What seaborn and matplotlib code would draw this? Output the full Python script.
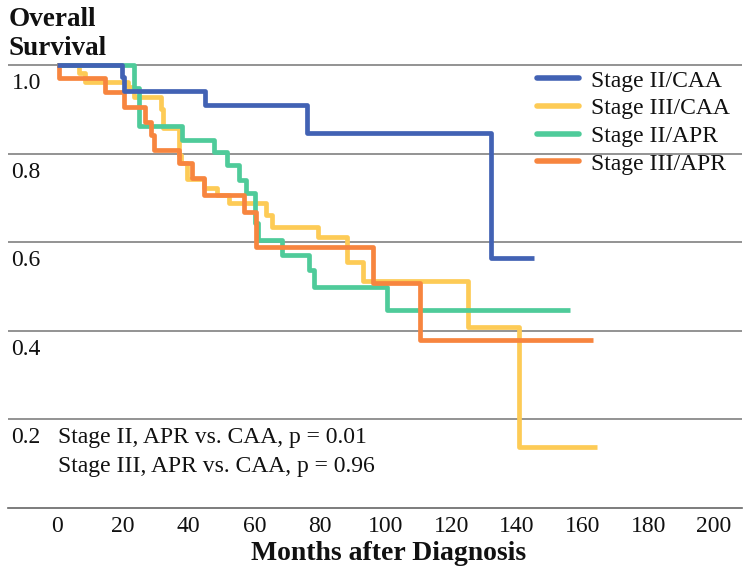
import numpy as np
import pandas as pd
import matplotlib
matplotlib.use("Agg")
import matplotlib.pyplot as plt
from matplotlib.transforms import offset_copy
import seaborn as sns

# ---- data ----
groups = ["Stage II/CAA", "Stage III/CAA", "Stage II/APR", "Stage III/APR"]
colors = ["#4262B4", "#FDCB56", "#4FCB9A", "#F7853F"]

t_ii_caa = [0, 19.6, 20.3, 45.1, 76.0, 132.0, 145.0]
s_ii_caa = [1.0, 0.974, 0.942, 0.91, 0.846, 0.565, 0.565]

t_iii_caa = [0, 6.5, 8.3, 21.5, 23.4, 31.5, 32.3, 37.0, 37.6, 39.5, 44.6, 48.6,
             52.2, 63.5, 65.3, 79.5, 88.1, 93.0, 125.0, 140.7, 164.3]
s_iii_caa = [1.0, 0.981, 0.962, 0.95, 0.928, 0.90, 0.857, 0.797, 0.778, 0.742,
             0.722, 0.707, 0.688, 0.661, 0.635, 0.612, 0.555, 0.513, 0.409, 0.137, 0.137]

t_ii_apr = [0, 23.4, 24.9, 38.0, 47.6, 51.6, 55.2, 57.3, 60.3, 61.2, 68.4, 76.5,
            78.0, 100.3, 156.0]
s_ii_apr = [1.0, 0.948, 0.862, 0.83, 0.804, 0.774, 0.74, 0.71, 0.643, 0.605,
            0.571, 0.537, 0.50, 0.448, 0.448]

t_iii_apr = [0, 0.4, 14.5, 20.3, 26.6, 28.4, 29.4, 37.0, 41.0, 44.6, 56.8, 60.5,
             96.2, 110.4, 163.0]
s_iii_apr = [1.0, 0.97, 0.938, 0.906, 0.872, 0.842, 0.808, 0.779, 0.744, 0.706,
             0.669, 0.59, 0.507, 0.379, 0.379]

yticks = [0.2, 0.4, 0.6, 0.8, 1.0]
ytick_labels = ["0.2", "0.4", "0.6", "0.8", "1.0"]
xticks = [0, 20, 40, 60, 80, 100, 120, 140, 160, 180, 200]
annot_lines = ["Stage II, APR vs. CAA, p = 0.01", "Stage III, APR vs. CAA, p = 0.96"]

series = {
    groups[0]: (t_ii_caa, s_ii_caa),
    groups[1]: (t_iii_caa, s_iii_caa),
    groups[2]: (t_ii_apr, s_ii_apr),
    groups[3]: (t_iii_apr, s_iii_apr),
}
rows = []
for g, (tt, ss) in series.items():
    for a, b in zip(tt, ss):
        rows.append({"months": a, "survival": b, "group": g})
df = pd.DataFrame(rows)

# ---- style ----
sns.set_style("white")
plt.rcParams["font.family"] = ["Liberation Serif", "DejaVu Serif"]

fig = plt.figure(figsize=(7.51, 5.79), dpi=100)
ax = fig.add_axes([8 / 751, 71 / 579, 734 / 751, (508 - 60.6) / 579])

sns.lineplot(data=df, x="months", y="survival", hue="group", hue_order=groups,
             palette=colors, drawstyle="steps-post", estimator=None, sort=True,
             linewidth=3.4, ax=ax, legend=True)
for ln in ax.lines:
    ln.set_solid_capstyle("butt")
ax.lines[0].set_zorder(5)

ax.set_xlim(-15.05, 208.5)
ax.set_ylim(0, 1.01)

# gridlines
ax.set_yticks(yticks)
ax.set_yticklabels([])
ax.yaxis.grid(True, color="#808080", linewidth=1.2)
ax.xaxis.grid(False)
ax.tick_params(axis="y", length=0)

# y labels below gridlines
ytrans = offset_copy(ax.get_yaxis_transform(), fig=fig, x=2.5, y=-5.8, units="points")
for v, lab in zip(yticks, ytick_labels):
    ax.text(0, v, lab, transform=ytrans, ha="left", va="top", fontsize=17, color="#111111")

# x axis
ax.set_xticks(xticks)
ax.set_xticklabels([str(x) for x in xticks])
ax.tick_params(axis="x", direction="in", length=10.8, width=0.8, color="#555555",
               pad=6, labelsize=17, labelcolor="#111111")
for s in ["top", "right", "left"]:
    ax.spines[s].set_visible(False)
ax.spines["bottom"].set_color("#666666")
ax.spines["bottom"].set_linewidth(1.2)

ax.set_xlabel("Months after Diagnosis", fontsize=20, fontweight="bold", color="#111111")
ax.xaxis.set_label_coords(0.518, -0.073)
ax.xaxis.label.set_va("top")
ax.set_ylabel("")

# annotation text
atrans1 = offset_copy(ax.transData, fig=fig, x=0, y=-5.8, units="points")
atrans2 = offset_copy(ax.transData, fig=fig, x=0, y=-5.8 - 20.3, units="points")
ax.text(0.3, yticks[0], annot_lines[0], transform=atrans1, ha="left", va="top",
        fontsize=17, color="#111111")
ax.text(0.3, yticks[0], annot_lines[1], transform=atrans2, ha="left", va="top",
        fontsize=17, color="#111111")

# title
fig.text(9 / 751, 1 - 7 / 579, "Overall\nSurvival", ha="left", va="top",
         fontsize=19.5, fontweight="bold", linespacing=1.2, color="#111111")

# legend
sns.move_legend(ax, "upper left", bbox_to_anchor=(0.7207, 0.979), title=None,
                frameon=False, fontsize=17, handlelength=1.78, handletextpad=0.5,
                labelspacing=0.26, borderpad=0, borderaxespad=0)
leg = ax.get_legend()
for h in leg.get_lines():
    h.set_linewidth(4)
for t in leg.get_texts():
    t.set_color("#111111")

fig.savefig("out.png", dpi=100)
